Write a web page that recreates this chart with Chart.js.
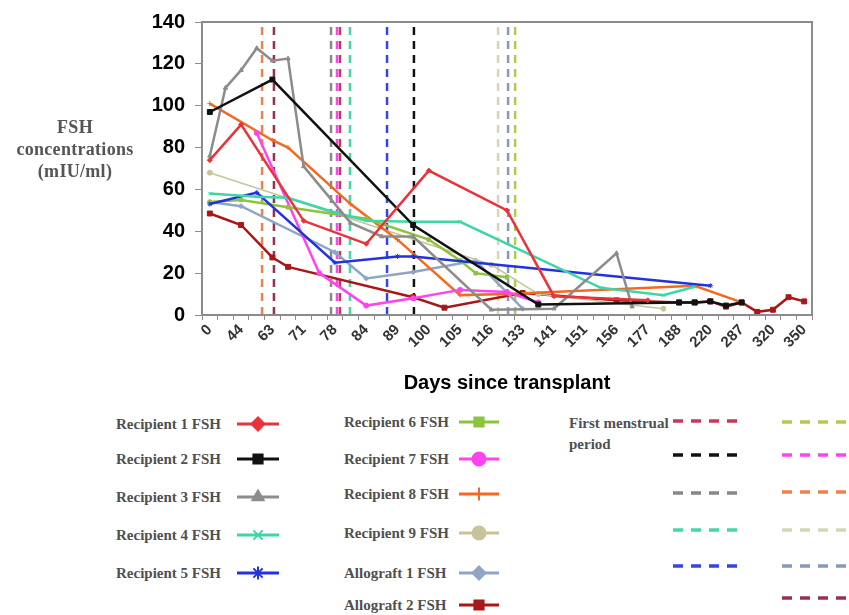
<!DOCTYPE html>
<html>
<head>
<meta charset="utf-8">
<script src="https://cdn.jsdelivr.net/npm/chart.js@4.4.1/dist/chart.umd.min.js"></script>
<style>
  body { margin: 0; background: #fff; }
  #wrap { position: relative; width: 849px; height: 615px; overflow: hidden; }
  #caixa { position: absolute; left: 0; top: 0; width: 849px; height: 400px; }
  .ytitulo { position: absolute; left: 0px; top: 116px; width: 150px; text-align: center;
    font: bold 18px "Liberation Serif", serif; color: #555; line-height: 22px; letter-spacing: 0.3px; }
  .lg { position: absolute; font: bold 15px "Liberation Serif", serif; color: #505050;
    white-space: nowrap; line-height: 21px; }
  canvas.amostra { position: absolute; }
</style>
</head>
<body>
<div id="wrap">
  <div id="caixa"><canvas id="grafico" width="849" height="400"></canvas></div>
  <div class="ytitulo">FSH<br>concentrations<br>(mIU/ml)</div>
  <div id="legenda"></div>
</div>
<script>
const _ = null;

// dias (rótulos do eixo x) - só os pares aparecem no gráfico
const dias = [0, 21, 44, 56, 63, 67, 71, 75, 78, 81,
  84, 86, 89, 95, 100, 102, 105, 110, 116, 125,
  133, 137, 141, 146, 151, 154, 156, 167, 177, 182,
  188, 204, 220, 254, 287, 303, 320, 335, 350];

// valores de FSH por receptor (mIU/ml)
const rec1 = [74, _, 91, _, _, _, 45, _, _, _,
  34, _, _, _, 69, _, _, _, _, 50,
  _, _, 9, _, _, _, _, _, 7, _,
  _, _, _, _, _, _, _, _, _];
const rec2 = [97, _, _, _, 112.5, _, _, _, _, _,
  _, _, _, 43, _, _, _, _, _, _,
  _, 5, _, _, _, _, _, _, _, _,
  6, 6, 6.5, 4.5, 6, _, _, _, _];
const rec3 = [76, 108.5, 117, 127.5, 121.5, 122.5, 71, _, _, 44,
  _, 37.5, _, 37.5, _, _, _, _, 2.5, _,
  _, _, 3, _, _, _, 29.5, 4, _, _,
  _, _, _, _, _, _, _, _, _];
const rec4 = [58, _, _, 56.5, _, 56, _, _, 49, _,
  45, _, _, 44.5, _, _, 44.5, _, _, _,
  _, _, _, _, _, 13, _, _, _, 9.5,
  _, 13.5, _, _, _, _, _, _, _];
const rec5 = [53, _, _, 58.5, _, _, _, _, 25, _,
  _, _, 28, 28, _, _, _, _, _, _,
  _, _, _, _, _, _, _, _, _, _,
  _, _, 14, _, _, _, _, _, _];
const rec6 = [54, _, 55, _, _, 51.5, _, _, _, _,
  46, _, _, _, 36, _, 26, 20, _, 18,
  _, _, _, _, _, _, _, _, _, _,
  _, _, _, _, _, _, _, _, _];
const rec7 = [_, _, _, 87, _, _, _, 20, _, _,
  4.5, _, _, 8, _, _, 12, _, _, 11,
  _, 6, _, _, _, _, _, _, _, _,
  _, _, _, _, _, _, _, _, _];
const rec8 = [101, _, _, _, 83.5, 80, _, _, _, 53,
  _, _, 36, _, _, _, 9.5, _, _, 10,
  _, _, _, _, _, _, _, _, _, _,
  _, 14, _, _, 6, _, _, _, _];
const rec9 = [68, _, _, _, _, _, _, _, _, _,
  _, _, _, _, _, _, _, _, 24, _,
  _, 10, _, _, _, _, _, _, _, 3,
  _, _, _, _, _, _, _, _, _];
const allo1 = [54, _, 52, _, _, _, _, _, 30, _,
  17.5, _, _, 20.5, _, _, _, 26, _, _,
  3, _, _, _, _, _, _, _, _, _,
  _, _, _, _, _, _, _, _, _];
const allo2 = [48.5, _, 43, _, 27.5, 23, _, _, _, _,
  _, _, _, 8.5, _, 3.5, _, _, _, _,
  10.5, _, _, _, _, _, 7, _, _, _,
  6, 6, 6.5, 4, 6, 1.5, 2.5, 8.5, 6.5];

const nomes = ['Recipient 1 FSH', 'Recipient 2 FSH', 'Recipient 3 FSH', 'Recipient 4 FSH',
  'Recipient 5 FSH', 'Recipient 6 FSH', 'Recipient 7 FSH', 'Recipient 8 FSH',
  'Recipient 9 FSH', 'Allograft 1 FSH', 'Allograft 2 FSH'];
const valores = [rec1, rec2, rec3, rec4, rec5, rec6, rec7, rec8, rec9, allo1, allo2];

// primeira menstruação (posição no eixo das categorias)
const periodo = [8.32, 13.05, 7.75, 8.96, 11.33, 19.52, 8.13, 3.34, 18.43, 19.07, 4.10];

// estilos
const cores = ['#e8333a', '#111111', '#8c8c8c', '#3ed6a8', '#2233dd', '#8cc43c',
  '#ff44ee', '#f26a22', '#c8c49a', '#8ea6c4', '#a81818'];
const marcadores = ['rectRot', 'rect', 'triangle', 'crossRot', 'star', 'rect',
  'circle', 'cross', 'circle', 'rectRot', 'rect'];
const coresPeriodo = ['#c8385a', '#111111', '#888888', '#44d8a8', '#3344ee', '#b0cc50',
  '#ff44ee', '#f08050', '#d6d6b4', '#8898b8', '#9a3050'];

const datasets = valores.map((d, k) => ({
  label: nomes[k],
  data: d,
  borderColor: cores[k],
  backgroundColor: cores[k],
  borderWidth: k === 8 ? 1.5 : 2.5,
  pointStyle: marcadores[k],
  pointRadius: (k === 1 || k === 10) ? 3.5 : 2.5,
  pointBorderWidth: 1,
  spanGaps: true,
  tension: 0
}));
periodo.forEach((p, k) => datasets.push({
  label: 'period ' + (k + 1),
  xAxisID: 'xv',
  data: [{ x: p, y: 0 }, { x: p, y: 140 }],
  borderColor: coresPeriodo[k],
  borderWidth: 2.5,
  borderDash: [8, 6],
  pointRadius: 0
}));

// moldura da área do gráfico
const moldura = {
  id: 'moldura',
  afterDraw(chart) {
    const a = chart.chartArea, c = chart.ctx;
    c.save();
    c.strokeStyle = '#8c8c8c';
    c.lineWidth = 2;
    c.strokeRect(a.left, a.top, a.right - a.left, a.bottom - a.top);
    c.restore();
  }
};

new Chart(document.getElementById('grafico'), {
  type: 'line',
  data: { labels: dias, datasets: datasets },
  options: {
    responsive: false,
    animation: false,
    layout: { padding: { left: 0, right: 37, top: 21, bottom: 0 } },
    plugins: { legend: { display: false }, tooltip: { enabled: false } },
    scales: {
      x: {
        type: 'category',
        offset: true,
        afterFit: s => { s.height = 85; },
        grid: { drawOnChartArea: false, offset: true, tickLength: 5, color: '#8c8c8c' },
        border: { color: '#8c8c8c', width: 2 },
        ticks: {
          autoSkip: false, minRotation: 45, maxRotation: 45, padding: 1,
          color: '#333', font: { family: 'Liberation Sans', size: 15, weight: 'bold' },
          callback: function (v, i) { return i % 2 === 0 ? this.getLabelForValue(v) : ''; }
        },
        title: {
          display: true, text: 'Days since transplant', color: '#000',
          font: { family: 'Liberation Sans', size: 20, weight: 'bold' },
          padding: { top: 2, bottom: 5 }
        }
      },
      xv: { type: 'linear', display: false, min: -0.5, max: 38.5 },
      y: {
        min: 0, max: 140,
        afterFit: s => { s.width = 202; },
        grid: { drawOnChartArea: false, tickLength: 7, color: '#8c8c8c' },
        border: { color: '#8c8c8c', width: 2 },
        ticks: {
          stepSize: 20, padding: 10, color: '#000',
          font: { family: 'Liberation Sans', size: 20, weight: 'bold' }
        }
      }
    }
  },
  plugins: [moldura]
});

// legenda feita à mão
const legenda = document.getElementById('legenda');
function texto(t, x, y) {
  const d = document.createElement('div');
  d.className = 'lg';
  d.innerHTML = t;
  d.style.left = x + 'px';
  d.style.top = (y - 10) + 'px';
  legenda.appendChild(d);
}
function amostra(x, y, w, desenha) {
  const cv = document.createElement('canvas');
  cv.className = 'amostra';
  cv.width = w; cv.height = 20;
  cv.style.left = x + 'px';
  cv.style.top = (y - 10) + 'px';
  legenda.appendChild(cv);
  desenha(cv.getContext('2d'), w);
}
function amostraSerie(k, x, y, w) {
  amostra(x, y, w, (c, w) => {
    c.strokeStyle = cores[k]; c.fillStyle = cores[k];
    c.lineWidth = 3;
    c.beginPath(); c.moveTo(0, 10); c.lineTo(w, 10); c.stroke();
    c.lineWidth = 2;
    if (Chart.helpers && Chart.helpers.drawPoint) {
      Chart.helpers.drawPoint(c, { pointStyle: marcadores[k], radius: 6.5, rotation: 0, borderWidth: 2 }, w / 2, 10);
    } else {
      c.fillRect(w / 2 - 6, 4, 12, 12);
    }
  });
}
function amostraPeriodo(k, x, y, w) {
  amostra(x, y, w, (c, w) => {
    c.strokeStyle = coresPeriodo[k];
    c.lineWidth = 3.5;
    c.setLineDash([10, 8]);
    c.beginPath(); c.moveTo(0, 10); c.lineTo(w, 10); c.stroke();
  });
}

const linhas1 = [424, 459, 497, 535, 573];
const linhas2 = [422, 459, 494, 533, 573, 605];
nomes.forEach((n, k) => {
  if (k < 5) { texto(n, 116, linhas1[k]); amostraSerie(k, 237, linhas1[k], 42); }
  else { texto(n, 344, linhas2[k - 5]); amostraSerie(k, 459, linhas2[k - 5], 40); }
});
texto('First menstrual<br>period', 569, 423);
const linhasA = [421, 455, 493, 530, 566];
const linhasB = [422, 455, 492, 530, 566, 598];
periodo.forEach((p, k) => {
  if (k < 5) amostraPeriodo(k, 673, linhasA[k], 66);
  else amostraPeriodo(k, 782, linhasB[k - 5], 67);
});
</script>
</body>
</html>
